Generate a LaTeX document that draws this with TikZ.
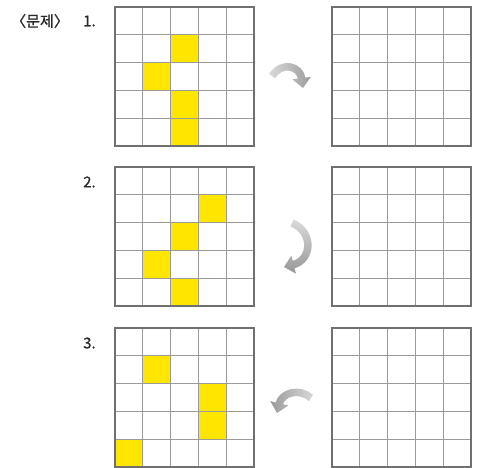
\documentclass[tikz,border=0pt]{standalone}
\usepackage{fontspec}
\setmainfont{Noto Sans CJK KR}
\newfontfamily\labelfont[FakeBold=0.8]{Noto Sans CJK KR}
\usetikzlibrary{arrows.meta,fadings}
\definecolor{qyellow}{HTML}{FFE600}
\definecolor{qgray}{HTML}{9A9A9A}
\definecolor{qdark}{HTML}{707070}
\definecolor{arrowgray}{HTML}{959595}
\definecolor{txt}{HTML}{2A2A2A}
\tikzfading[name=tailfade, left color=transparent!25, right color=transparent!100]
\newcommand\cellsz{27.8}
\newcommand\qgrid[2]{%
  \foreach \i in {1,...,4} {
    \draw[gridline] ({#1+\i*\cellsz},#2) -- ++(0,139);
    \draw[gridline] (#1,{#2+\i*\cellsz}) -- ++(139,0);
  }
  \draw[gridborder] (#1,#2) rectangle ++(139,139);
}
\newcommand\ycell[4]{%
  \fill[qyellow] ({#1+#4*\cellsz},{#2+#3*\cellsz}) rectangle ++(\cellsz,\cellsz);
}
\begin{document}
\begin{tikzpicture}[x=1pt,y=-1pt,
  gridline/.style={draw=qgray, line width=1.2pt},
  gridborder/.style={draw=qdark, line width=1.6pt},
  turnarrow/.style={line width=7.5pt, draw=arrowgray, -{Triangle[length=10pt,width=18pt]}},
  whiten/.style={fill=white, path fading=tailfade},
  numlabel/.style={font=\fontsize{15}{18}\selectfont\labelfont, text=txt, anchor=west, inner sep=0pt}]
\useasboundingbox[fill=white] (0,0) rectangle (481,467);
% yellow cells
\ycell{115}{7}{1}{2}\ycell{115}{7}{2}{1}\ycell{115}{7}{3}{2}\ycell{115}{7}{4}{2}
\ycell{115}{167}{1}{3}\ycell{115}{167}{2}{2}\ycell{115}{167}{3}{1}\ycell{115}{167}{4}{2}
\ycell{115}{328}{1}{1}\ycell{115}{328}{2}{3}\ycell{115}{328}{3}{3}\ycell{115}{328}{4}{0}
% grids
\qgrid{115}{7}
\qgrid{332}{7}
\qgrid{115}{167}
\qgrid{332}{167}
\qgrid{115}{328}
\qgrid{332}{328}
% arrows
\draw[turnarrow] (272,76) .. controls (282,61) and (300,66) .. (303,88);
\draw[turnarrow] (292,223) .. controls (314,232) and (312,260) .. (284,267);
\draw[turnarrow] (311,398) .. controls (300,388) and (282,392) .. (277,413);
% gradient (lighter tails)
\fill[whiten, fading angle=0] (262,55) rectangle (316,95);
\fill[whiten, fading angle=-90] (275,212) rectangle (322,275);
\fill[whiten, fading angle=180] (266,380) rectangle (322,420);
% labels
\node[numlabel] (prob) at (11,21) {〈문제〉};
\node[numlabel] (n1) at (83,21) {1.};
\node[numlabel] (n2) at (83,182) {2.};
\node[numlabel] (n3) at (83,343) {3.};
\end{tikzpicture}
\end{document}
